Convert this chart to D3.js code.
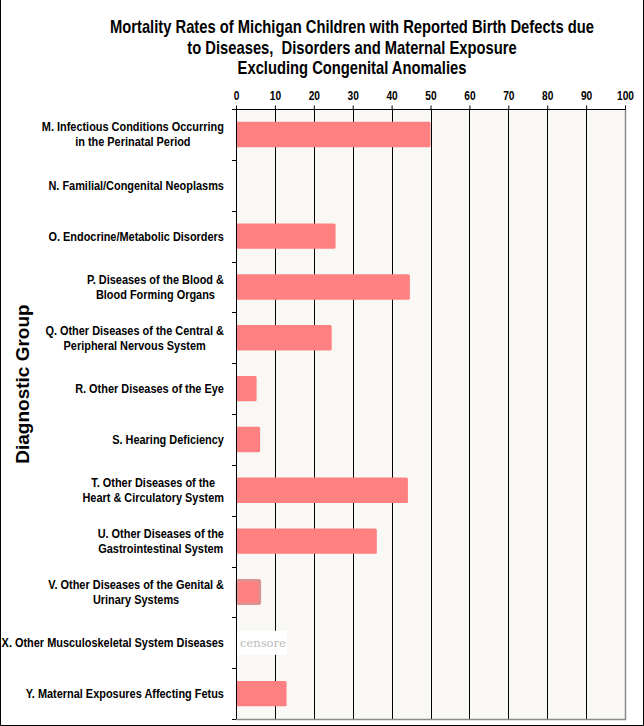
<!DOCTYPE html>
<html><head><meta charset="utf-8">
<script src="https://cdn.jsdelivr.net/npm/d3@7"></script>
<style>
body{margin:0;background:#fff;}
svg{display:block;}
.narrow{font-family:"Liberation Sans",Arial,sans-serif;font-weight:bold;}
</style>
</head><body>
<svg id="c" width="644" height="726"></svg>
<script>
const titleLines = ["Mortality Rates of Michigan Children with Reported Birth Defects due",
  "to Diseases,  Disorders and Maternal Exposure",
  "Excluding Congenital Anomalies"];
const categories = [
  ["M. Infectious Conditions Occurring","in the Perinatal Period"],
  ["N. Familial/Congenital Neoplasms"],
  ["O. Endocrine/Metabolic Disorders"],
  ["P. Diseases of the Blood &","Blood Forming Organs"],
  ["Q. Other Diseases of the Central &","Peripheral Nervous System"],
  ["R. Other Diseases of the Eye"],
  ["S. Hearing Deficiency"],
  ["T. Other Diseases of the","Heart & Circulatory System"],
  ["U. Other Diseases of the","Gastrointestinal System"],
  ["V. Other Diseases of the Genital &","Urinary Systems"],
  ["X. Other Musculoskeletal System Diseases"],
  ["Y. Maternal Exposures Affecting Fetus"]
];
const values = [50, 0, 25.6, 44.7, 24.6, 5.3, 6.2, 44.2, 36.2, 6.4, null, 13.0];
const censored = [false,false,false,false,false,false,false,false,false,false,true,false];
const highlighted = [false,false,false,false,false,false,false,false,false,true,false,false];
const xTicks = [0,10,20,30,40,50,60,70,80,90,100];
const yTitle = "Diagnostic Group";

const svg = d3.select("#c");
const L = 236, R = 625, T = 109, B = 719;
const x = d3.scaleLinear().domain([0,100]).range([L,R]);
const y = d3.scaleBand().domain(d3.range(categories.length)).range([T,B]).paddingInner(0.5).paddingOuter(0.25);

// outer border (left, right, bottom)
svg.append("path").attr("d","M0.5,0 V725.5 H643.5 V0").attr("fill","none").attr("stroke","#000").attr("stroke-width",1);

// plot bg
svg.append("rect").attr("x",L).attr("y",T).attr("width",R-L).attr("height",B-T).attr("fill","#F9F8F4");

// grid
svg.append("g").selectAll("line").data(xTicks.filter(d=>d>0&&d<100)).join("line")
  .attr("x1",d=>Math.round(x(d))+0.5).attr("x2",d=>Math.round(x(d))+0.5)
  .attr("y1",T).attr("y2",B).attr("stroke","#000").attr("stroke-width",1);
// right/bottom borders grey
svg.append("path").attr("d",`M${R+0.5},${T} V${B+0.5} H${L}`).attr("fill","none").attr("stroke","#888").attr("stroke-width",1.5);

// bars
const bars = svg.append("g");
values.forEach((v,i)=>{
  if (censored[i]) {
    const by = y(i)+y.bandwidth()/2;
    svg.append("rect").attr("x",L+1).attr("y",by-12).attr("width",50).attr("height",24).attr("fill","#fff");
    svg.append("text").attr("x",L+4).attr("y",by+4).attr("font-family","DejaVu Serif, serif").attr("font-size",11.5)
      .attr("fill","#bbb").text("censore");
    return;
  }
  if (!v) return;
  if (highlighted[i]) {
    bars.append("rect").attr("x",L+1).attr("y",y(i)+1).attr("width",x(v)-L-2).attr("height",y.bandwidth()-2)
      .attr("fill","#FF8080").attr("stroke","#D99393").attr("stroke-width",2.5).attr("rx",1);
  } else {
    bars.append("rect").attr("x",L).attr("y",y(i)).attr("width",x(v)-L).attr("height",y.bandwidth())
      .attr("fill","#FF8080").attr("rx",1.5);
  }
});

// top axis
const xa = svg.append("g").attr("transform",`translate(0,${T+0.5})`)
  .call(d3.axisTop(x).tickValues(xTicks).tickSize(4).tickPadding(6).tickFormat(d3.format("d")));
xa.select(".domain").attr("stroke","#000").attr("d",`M${L},0H${R}`);
xa.selectAll(".tick text").each(function(){
  const t = d3.select(this);
  const yy = +t.attr("y") || -10;
  t.attr("y",null).attr("class","narrow").attr("font-size",12).attr("fill","#000")
   .attr("transform",`translate(0,${yy}) scale(0.85,1)`);
});

// left axis
const bounds = d3.range(categories.length+1).map(i=>T+(B-T)*i/categories.length);
svg.append("line").attr("x1",L+0.5).attr("x2",L+0.5).attr("y1",T).attr("y2",B).attr("stroke","#000");
svg.append("g").selectAll("line").data(bounds).join("line")
  .attr("x1",L-4).attr("x2",L).attr("y1",d=>Math.round(d)+0.5).attr("y2",d=>Math.round(d)+0.5).attr("stroke","#000");

// category labels: centered block, right edge at 224
const SX = 0.875;
const lab = svg.append("g").attr("class","narrow").attr("font-size",12.5).attr("text-anchor","middle").attr("fill","#000");
categories.forEach((lines,i)=>{
  const cy = y(i)+y.bandwidth()/2;
  const n = lines.length;
  const nodes = lines.map((t,j)=> lab.append("text").text(t));
  const maxW = d3.max(nodes, nd => nd.node().getComputedTextLength()) * SX;
  const cx = 224 - maxW/2;
  nodes.forEach((nd,j)=>{
    nd.attr("transform",`translate(${cx},${cy+(j-(n-1)/2)*15+4.5}) scale(${SX},1)`);
  });
});

// title
const tt = svg.append("g").attr("class","narrow").attr("font-size",18).attr("text-anchor","middle");
titleLines.forEach((t,j)=>{
  tt.append("text").attr("transform",`translate(352,${33+j*20.5}) scale(0.82,1)`)
    .text(t.replace(/  /g, " \u00A0"));
});

// y title
svg.append("text").attr("transform","translate(29,384) rotate(-90)").attr("text-anchor","middle")
  .attr("font-family","Liberation Sans, Arial, sans-serif").attr("font-weight","bold").attr("font-size",19).text(yTitle);
</script>
</body></html>
